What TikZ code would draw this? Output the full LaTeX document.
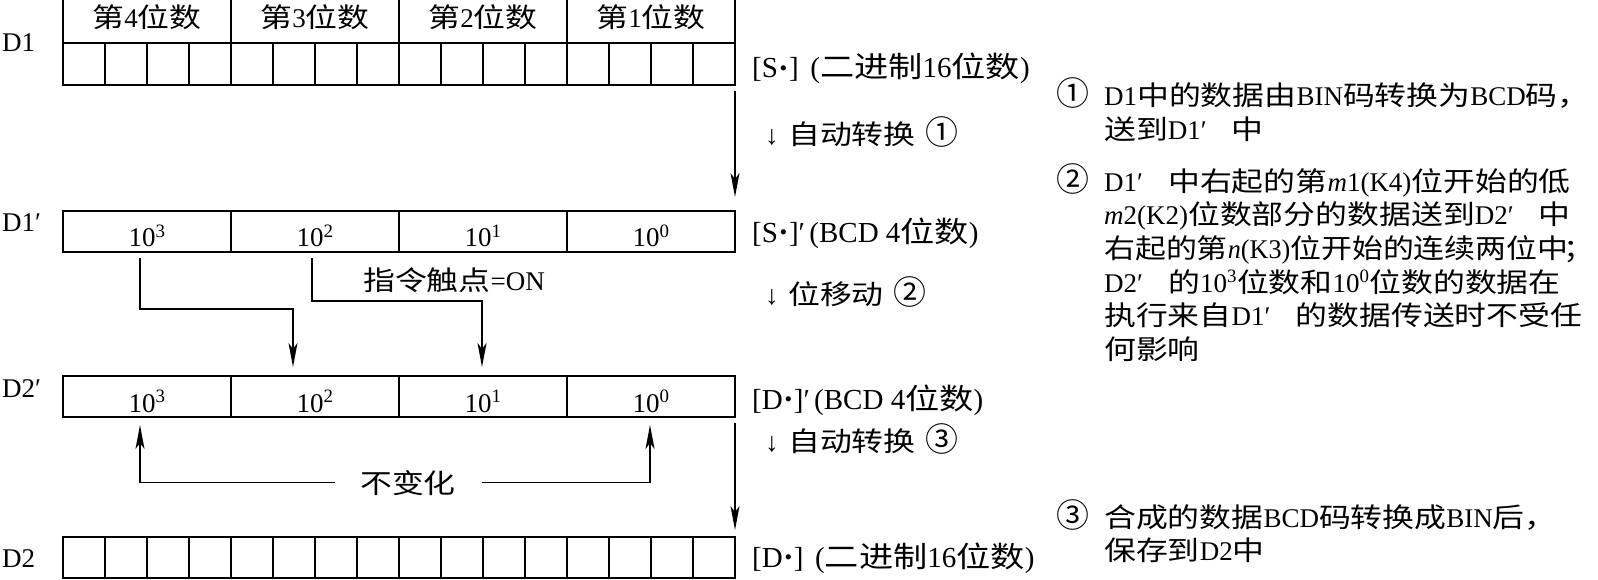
\documentclass[tikz,border=0pt]{standalone}
\usepackage{fontspec}
\usepackage{graphicx}
\setmainfont{Liberation Serif}
\newfontfamily\cjk[FakeStretch=1.18]{Noto Sans CJK SC}
\newfontfamily\cjkn[Scale=1.22]{Noto Sans CJK SC}
\usetikzlibrary{arrows.meta}
\newcommand\zh[1]{{\cjk #1}}
\newcommand\cn[1]{{\cjkn #1}}
\newcommand\fp{\makebox[31pt][l]{′}}
\newcommand\dotc{\hspace{0.06em}\raisebox{0.1em}{\scalebox{0.75}{•}}\hspace{0.06em}}
\begin{document}
\begin{tikzpicture}[x=1pt,y=-1pt,
  every node/.style={font=\fontsize{27}{33.5}\selectfont},
  lw/.style={line width=1.7pt},
  rowbox/.style={draw,lw,inner sep=0pt,minimum height=41.5pt,minimum width=672pt},
  grp/.style={draw,lw,inner sep=0pt,minimum height=41pt,minimum width=168pt},
  txt/.style={inner sep=0pt,anchor=base west},
  ctxt/.style={inner sep=0pt,anchor=base},
  side/.style={txt,font=\fontsize{29}{33.5}\selectfont},
  arr/.style={lw,-{Stealth[length=24pt,width=9pt,inset=6pt]}}]
\useasboundingbox (0,0) rectangle (1598,580);

% ---- D1 ----
\node[rowbox,minimum height=42pt] (d1) at (399,64) {};
\foreach \i in {1,...,15} \draw[lw] ({63+42*\i},43) -- ({63+42*\i},85);
\foreach \x in {63,231,399,567,735} \draw[lw] (\x,0) -- (\x,43);
\node[ctxt] (h4) at (147,28) {\zh{第}4\zh{位数}};
\node[ctxt] (h3) at (315,28) {\zh{第}3\zh{位数}};
\node[ctxt] (h2) at (483,28) {\zh{第}2\zh{位数}};
\node[ctxt] (h1) at (651,28) {\zh{第}1\zh{位数}};
\node[txt] (ld1) at (2,52) {D1};

% ---- D1' ----
\node[txt] (ld1p) at (2,232) {D1′};
\node[grp] (pa) at (147,231.5) {};
\node[grp] (pb) at (315,231.5) {};
\node[grp] (pc) at (483,231.5) {};
\node[grp] (pd) at (651,231.5) {};
\node[ctxt] (ta) at (147,247) {10\textsuperscript{3}};
\node[ctxt] (tb) at (315,247) {10\textsuperscript{2}};
\node[ctxt] (tc) at (483,247) {10\textsuperscript{1}};
\node[ctxt] (td) at (651,247) {10\textsuperscript{0}};

% ---- D2' ----
\node[txt] (ld2p) at (2,397) {D2′};
\node[grp] (qa) at (147,396.5) {};
\node[grp] (qb) at (315,396.5) {};
\node[grp] (qc) at (483,396.5) {};
\node[grp] (qd) at (651,396.5) {};
\node[ctxt] (ua) at (147,412) {10\textsuperscript{3}};
\node[ctxt] (ub) at (315,412) {10\textsuperscript{2}};
\node[ctxt] (uc) at (483,412) {10\textsuperscript{1}};
\node[ctxt] (ud) at (651,412) {10\textsuperscript{0}};

% ---- D2 ----
\node[rowbox] (d2) at (399,557.5) {};
\foreach \i in {1,...,15} \draw[lw] ({63+42*\i},537) -- ({63+42*\i},578);
\node[txt] (ld2) at (2,567) {D2};

% ---- main vertical arrows ----
\coordinate (a1s) at (735,91);  \coordinate (a1e) at (735,197);
\coordinate (a3s) at (735,423); \coordinate (a3e) at (735,530);
\draw[arr] (a1s) -- (a1e);
\draw[arr] (a3s) -- (a3e);

% ---- shift connectors ----
\coordinate (c1s) at (140,258); \coordinate (c1e) at (293,367);
\coordinate (c2s) at (312,258); \coordinate (c2e) at (482,367);
\draw[arr] (c1s) -- (140,309) -| (c1e);
\draw[arr] (c2s) -- (312,301) -| (c2e);
\node[txt] (on) at (363,290) {\zh{指令触点}=ON};

% ---- unchanged ----
\node[ctxt] (nc) at (408,493) {\zh{不变化}};
\coordinate (u1) at (140,425);
\coordinate (u2) at (650,425);
\draw[arr] ([xshift=-25pt]nc.west) -| (u1);
\draw[arr] ([xshift=26pt]nc.east) -| (u2);

% ---- side labels ----
\node[side] (s1) at (752,78) {[S\dotc]\hspace{0.4em}(\zh{二进制}16\zh{位数})};
\node[txt] (s2) at (765,145) {↓\hspace{0.35em}\zh{自动转换}\hspace{0.35em}\cn{①}};
\node[side] (s3) at (752,242) {[S\dotc]′\hspace{0.15em}(BCD 4\zh{位数})};
\node[txt] (s4) at (765,304) {↓\hspace{0.35em}\zh{位移动}\hspace{0.35em}\cn{②}};
\node[side] (s5) at (752,409) {[D\dotc]′\hspace{0.15em}(BCD 4\zh{位数})};
\node[txt] (s6) at (765,451) {↓\hspace{0.35em}\zh{自动转换}\hspace{0.35em}\cn{③}};
\node[side] (s7) at (752,567) {[D\dotc]\hspace{0.4em}(\zh{二进制}16\zh{位数})};

% ---- notes ----
\node[txt] (n1) at (1056,106) {\cn{①}};
\node[txt] (r1) at (1104,106) {D1\zh{中的数据由}BIN\zh{码转换为}BCD\zh{码，}};
\node[txt] (r2) at (1104,139.5) {\zh{送到}D1\fp\zh{中}};
\node[txt] (n2) at (1056,191.5) {\cn{②}};
\node[txt] (r3) at (1104,191.5) {D1\fp\zh{中右起的第}\textit{m}1(K4)\zh{位开始的低}};
\node[txt] (r4) at (1104,225) {\textit{m}2(K2)\zh{位数部分的数据送到}D2\fp\zh{中}};
\node[txt] (r5) at (1104,258.5) {\scalebox{0.97}[1]{\zh{右起的第}\textit{n}(K3)\zh{位开始的连续两位中}\hspace{-5pt}\makebox[10pt][l]{\zh{；}}}};
\node[txt] (r6) at (1104,292) {D2\fp\zh{的}10\textsuperscript{3}\zh{位数和}10\textsuperscript{0}\zh{位数的数据在}};
\node[txt] (r7) at (1104,325.5) {\zh{执行来自}D1\fp\zh{的数据传送时不受任}};
\node[txt] (r8) at (1104,359) {\zh{何影响}};
\node[txt] (n3) at (1056,527) {\cn{③}};
\node[txt] (r9) at (1104,527) {\zh{合成的数据}BCD\zh{码转换成}BIN\zh{后，}};
\node[txt] (r10) at (1104,560.5) {\zh{保存到}D2\zh{中}};
\end{tikzpicture}
\end{document}
